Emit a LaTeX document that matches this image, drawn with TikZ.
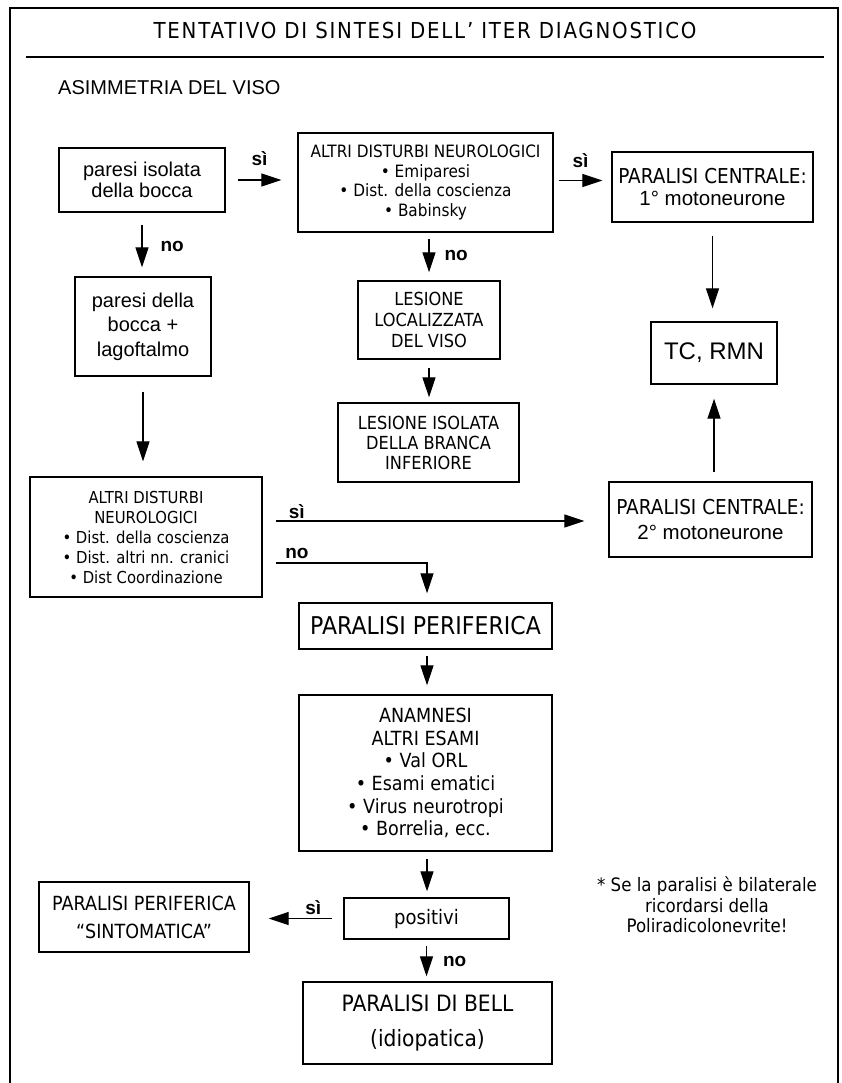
\documentclass[tikz,border=0pt]{standalone}
\usepackage{fontspec}
\setmainfont{Liberation Sans}
\newfontfamily\tah[FakeStretch=0.9]{DejaVu Sans}
\newfontfamily\ttlfont[FakeStretch=0.9,LetterSpace=8]{DejaVu Sans}
\usetikzlibrary{arrows.meta}
\newcommand\fs[2]{\fontsize{#1}{#2}\selectfont}

\begin{document}
\begin{tikzpicture}[x=1pt,y=-1pt,
  box/.style={draw,line width=1.4pt,inner sep=0pt,align=center},
  arr/.style={line width=1.2pt,-{Triangle[length=20pt,width=13pt]}},
  lbl/.style={font=\bfseries\fs{19}{21},inner sep=0pt},
  frame/.style={line width=2.5pt}]
\useasboundingbox (0,0) rectangle (842,1083);

% outer frame and heading
\draw[frame] (10,1083) -- (10,8) -- (838,8) -- (838,1083);
\draw[frame] (26,57) -- (824,57);
\node[font=\ttlfont\fs{22}{24}] (title) at (425,30) {TENTATIVO DI SINTESI DELL’ ITER DIAGNOSTICO};
\node[font=\fs{20}{24},anchor=west,inner sep=0pt] (start) at (58,88) {ASIMMETRIA DEL VISO};

% boxes
\node[box,font=\fs{20}{21},minimum width=166pt,minimum height=64pt] (p1) at (142,180)
  {paresi isolata\\della bocca};
\node[box,font=\tah\fs{17}{19.5},minimum width=255pt,minimum height=99pt] (n2) at (425.5,182.5)
  {ALTRI DISTURBI NEUROLOGICI\\• Emiparesi\\• Dist. della coscienza\\• Babinsky};
\node[box,font=\fs{20.5}{21.5},minimum width=201pt,minimum height=70pt] (c1) at (712.5,187)
  {{\tah PARALISI CENTRALE:}\\1° motoneurone};
\node[box,font=\fs{24}{26},minimum width=126pt,minimum height=62pt] (tc) at (714,353)
  {TC, RMN};
\node[box,font=\fs{20}{24.5},minimum width=136pt,minimum height=99pt] (p2) at (143,326.5)
  {paresi della\\bocca +\\lagoftalmo};
\node[box,font=\tah\fs{18}{21},minimum width=142pt,minimum height=78pt] (les1) at (429,320)
  {LESIONE\\LOCALIZZATA\\DEL VISO};
\node[box,font=\tah\fs{18}{20},minimum width=181pt,minimum height=79pt] (les2) at (428.5,442.5)
  {LESIONE ISOLATA\\DELLA BRANCA\\INFERIORE};
\node[box,font=\tah\fs{16.5}{20},minimum width=232pt,minimum height=120pt] (n7) at (146,537)
  {ALTRI DISTURBI\\NEUROLOGICI\\• Dist. della coscienza\\• Dist. altri nn. cranici\\• Dist Coordinazione};
\node[box,font=\fs{20.5}{25},minimum width=203pt,minimum height=75pt] (c2) at (710.5,519.5)
  {{\tah PARALISI CENTRALE:}\\2° motoneurone};
\node[box,font=\tah\fs{24.5}{26},minimum width=253pt,minimum height=46pt] (pp) at (425.5,626)
  {PARALISI PERIFERICA};
\node[box,font=\tah\fs{19.5}{22.6},minimum width=253pt,minimum height=156pt] (ana) at (425.5,773)
  {ANAMNESI\\ALTRI ESAMI\\• Val ORL\\• Esami ematici\\• Virus neurotropi\\• Borrelia, ecc.};
\node[box,font=\tah\fs{20}{22},minimum width=165pt,minimum height=41pt] (pos) at (426.5,918.5)
  {positivi};
\node[box,font=\tah\fs{19.5}{28},minimum width=210pt,minimum height=70pt] (sint) at (144,917)
  {PARALISI PERIFERICA\\“SINTOMATICA”};
\node[box,font=\tah\fs{22.5}{35},minimum width=249pt,minimum height=82pt] (bell) at (427.5,1023)
  {PARALISI DI BELL\\(idiopatica)};
\node[font=\tah\fs{18.5}{20.5},align=center,inner sep=0pt] (note) at (707,905)
  {* Se la paralisi è bilaterale\\ricordarsi della\\Poliradicolonevrite!};

% connectors
\draw[arr] ([xshift=12pt]p1.east) -- ([xshift=-16pt]p1.east -| n2.west)
  node[lbl,midway,above=14pt] (l1) {sì};
\draw[arr] ([xshift=5pt,yshift=2pt]n2.east) -- ([xshift=-9pt,yshift=2pt]n2.east -| c1.west)
  node[lbl,midway,above=12pt] (l2) {sì};
\draw[arr] ([yshift=-13pt]c1.south) -- ([yshift=13pt]c1.south |- tc.north);
\draw[arr] ([yshift=9pt]tc.south |- c2.north) -- ([yshift=-14pt]tc.south);
\draw[arr] ([yshift=-12pt]p1.south) -- ([yshift=9pt]p1.south |- p2.north)
  node[lbl,midway,right=18pt] (l3) {no};
\draw[arr] ([yshift=-15pt]p2.south) -- ([yshift=15pt]p2.south |- n7.north);
\draw[arr] ([yshift=-6pt]les1.north |- n2.south) -- ([yshift=8pt]les1.north)
  node[lbl,midway,right=15pt] (l4) {no};
\draw[arr] ([yshift=-8pt]les1.south) -- ([yshift=5pt]les1.south |- les2.north);
\draw[arr] ([xshift=13pt,yshift=16pt]n7.east) -- ([xshift=-24pt,yshift=16pt]n7.east -| c2.west)
  node[lbl,pos=0.068,above=2pt] (l5) {sì};
\draw[arr] ([xshift=13pt,yshift=-26pt]n7.east) -| ([xshift=1.5pt,yshift=9pt]pp.north)
  node[lbl,pos=0.07,above=4pt] (l6) {no};
\draw[arr] ([xshift=1.5pt,yshift=-6pt]pp.south) -- ([xshift=1.5pt,yshift=9pt]pp.south |- ana.north);
\draw[arr] ([xshift=1.5pt,yshift=-7pt]ana.south) -- ([xshift=1.5pt,yshift=6pt]ana.south |- pos.north);
\draw[arr] ([xshift=-11pt]pos.west) -- ([xshift=19pt]pos.west -| sint.east)
  node[lbl,pos=0.3,above=3pt] (l7) {sì};
\draw[arr] ([yshift=-6pt]pos.south) -- ([yshift=5pt]pos.south |- bell.north)
  node[lbl,midway,right=16pt] (l8) {no};
\end{tikzpicture}
\end{document}
